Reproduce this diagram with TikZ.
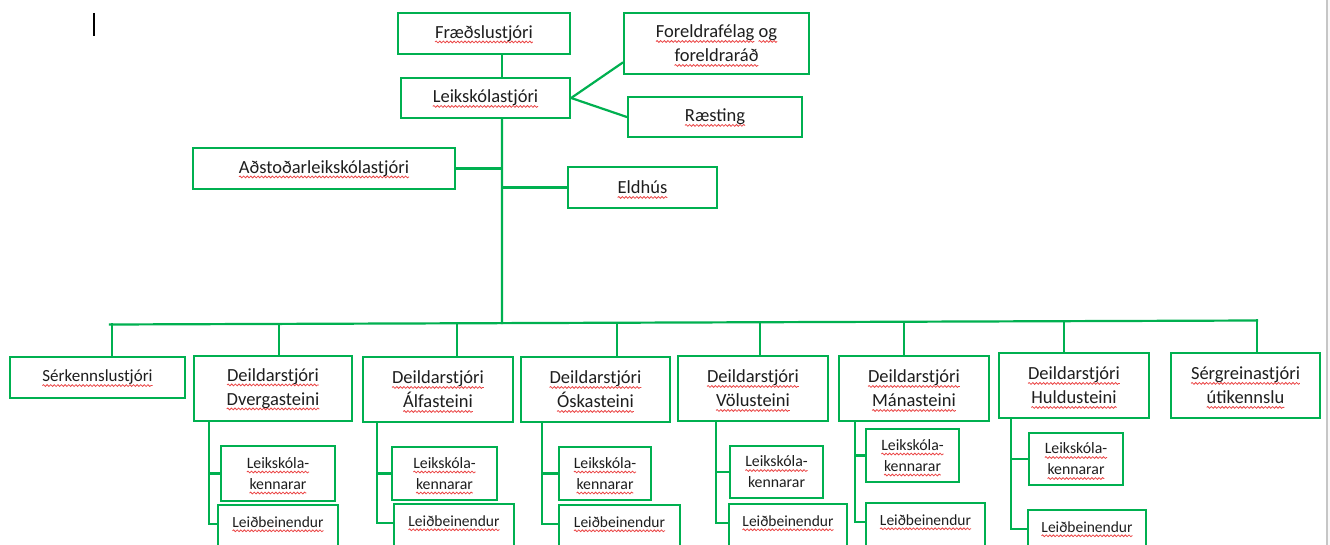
\documentclass[tikz,border=0pt]{standalone}
\usepackage{fontspec}
\setmainfont{Carlito}
\usetikzlibrary{calc,decorations.pathmorphing}
\definecolor{grn}{RGB}{0,176,80}
\definecolor{txt}{RGB}{30,30,30}
\definecolor{sqr}{RGB}{235,70,70}
\newlength\sqw
\newcommand\sq[1]{\settowidth\sqw{#1}\leavevmode\rlap{\begin{tikzpicture}[x=1pt,y=1pt,baseline=0pt]\useasboundingbox (0,0) rectangle (0,0);\draw[sqr,line width=0.8pt,line cap=butt,decorate,decoration={snake,segment length=3.6pt,amplitude=0.9pt}] (0,-3.6) -- (\the\sqw,-3.6);\end{tikzpicture}}#1}
% box: [style] name x1 y1 x2 y2 text
\newcommand\bx[7][]{\node[box,#1,minimum width={(#5)-(#3)},minimum height={(#6)-(#4)}] (#2) at ({((#3)+(#5))/2},{((#4)+(#6))/2}) {#7};}
\tikzset{
  box/.style={draw=grn, line width=2.3pt, inner sep=0pt, text=txt, align=center, font=\fontsize{18.5}{24}\selectfont},
  sbox/.style={font=\fontsize{15.8}{21}\selectfont},
  lbl/.style={inner sep=0pt, text=txt, align=center, font=\fontsize{15.5}{21}\selectfont},
  ln/.style={draw=grn, line width=2.2pt, line cap=rect},
  dln/.style={draw=grn, line width=2.2pt, line cap=round},
}
\begin{document}
\begin{tikzpicture}[x=1pt,y=-1pt]
\useasboundingbox (0,0) rectangle (1330,545);
\clip (0,0) rectangle (1330,545);
\fill[white] (0,0) rectangle (1330,545);
\fill[gray!5] (1327,0) rectangle (1330,545);
\draw[gray!45, line width=1.2pt] (1327,0) -- (1327,545);
% text cursor
\coordinate (cu1) at (94,13);
\coordinate (cu2) at (94,36);
\draw[black, line width=1.2pt] (cu1) -- (cu2);

% top part
\bx{fr}{398}{13}{570}{54}{\sq{Fræðslustjóri}}
\bx{lk}{401}{78}{570}{118}{\sq{Leikskólastjóri}}
\bx{fo}{624}{13}{809}{74}{\sq{Foreldrafélag} \sq{og}\\\sq{foreldraráð}}
\bx{rs}{628}{97}{802}{137}{\sq{Ræsting}}
\bx{ad}{193}{148}{455}{189}{\sq{Aðstoðarleikskólastjóri}}
\bx{el}{568}{167}{717}{208}{\sq{Eldhús}}

% second row
\bx[font=\fontsize{17}{22}\selectfont]{sk}{10}{357}{185}{398}{\sq{Sérkennslustjóri}}
\bx{dv}{194}{356}{352}{421}{\sq{Deildarstjóri}\\\sq{Dvergasteini}}
\bx{af}{363}{357}{513}{422}{\sq{Deildarstjóri}\\\sq{Álfasteini}}
\bx{os}{521}{357}{670}{422}{\sq{Deildarstjóri}\\\sq{Óskasteini}}
\bx{vo}{678}{356}{828}{421}{\sq{Deildarstjóri}\\\sq{Völusteini}}
\bx{ma}{839}{356}{989}{421}{\sq{Deildarstjóri}\\\sq{Mánasteini}}
\bx{hu}{999}{353}{1149}{418}{\sq{Deildarstjóri}\\\sq{Huldusteini}}
\bx{sg}{1171}{353}{1320}{418}{\sq{Sérgreinastjóri}\\\sq{útikennslu}}

% sub boxes
\bx[sbox]{k1}{221}{446}{335}{501}{\sq{Leikskóla-}\\\sq{kennarar}}
\bx[sbox]{k2}{392}{447}{497}{500}{\sq{Leikskóla-}\\\sq{kennarar}}
\bx[sbox]{k3}{559}{447}{651}{500}{\sq{Leikskóla-}\\\sq{kennarar}}
\bx[sbox]{k4}{730}{446}{823}{498}{\sq{Leikskóla-}\\kennarar}
\bx[sbox]{k5}{866}{429}{959}{482}{\sq{Leikskóla-}\\\sq{kennarar}}
\bx[sbox]{k6}{1029}{433}{1123}{485}{\sq{Leikskóla-}\\\sq{kennarar}}

\bx[sbox]{b1}{218}{505}{338}{570}{}
\bx[sbox]{b2}{394}{504}{514}{570}{}
\bx[sbox]{b3}{559}{505}{680}{570}{}
\bx[sbox]{b4}{729}{504}{847}{570}{}
\bx[sbox]{b5}{866}{503}{985}{570}{}
\bx[sbox]{b6}{1028}{510}{1146}{570}{}
\foreach \i in {1,...,6}{
  \node[lbl] (bt\i) at ($(b\i.north)+(0,18)$) {\sq{Leiðbeinendur}};
}

% connectors top
\coordinate (tk) at (502,0);
\coordinate (barL) at (110,324.5);
\coordinate (barR) at (1257,320.5);
\coordinate (barT) at ($(barL)!{(502-110)/1147}!(barR)$);
\draw[ln] (tk |- fr.south) -- (tk |- lk.north);
\draw[ln] (tk |- lk.south) -- (barT);
\draw[dln] (lk.east) -- ($(fo.south west)!0.2!(fo.north west)$);
\draw[dln] (lk.east) -- (rs.west);
\draw[ln] (ad.east) -- (ad.east -| tk);
\draw[ln] (el.west) -- (el.west -| tk);
\draw[ln] (barL) -- (barR);
\foreach \n/\x in {sk/112, dv/279, af/457, os/617, vo/760, ma/904, hu/1064, sg/1257}{
  \coordinate (d-\n) at ($(barL)!{(\x-110)/1147}!(barR)$);
  \draw[ln] (d-\n) -- (d-\n |- \n.north);
}
% sub-group connectors
\foreach \p/\i/\x in {dv/1/209, af/2/377, os/3/542, vo/4/716, ma/5/855, hu/6/1011}{
  \coordinate (v\i) at (\x,0);
  \coordinate (t\i) at ($(b\i.north west)+(0,20)$);
  \draw[ln] (v\i |- \p.south) |- (t\i);
  \draw[ln] (v\i |- k\i.west) -- (k\i.west);
}
\end{tikzpicture}
\end{document}
